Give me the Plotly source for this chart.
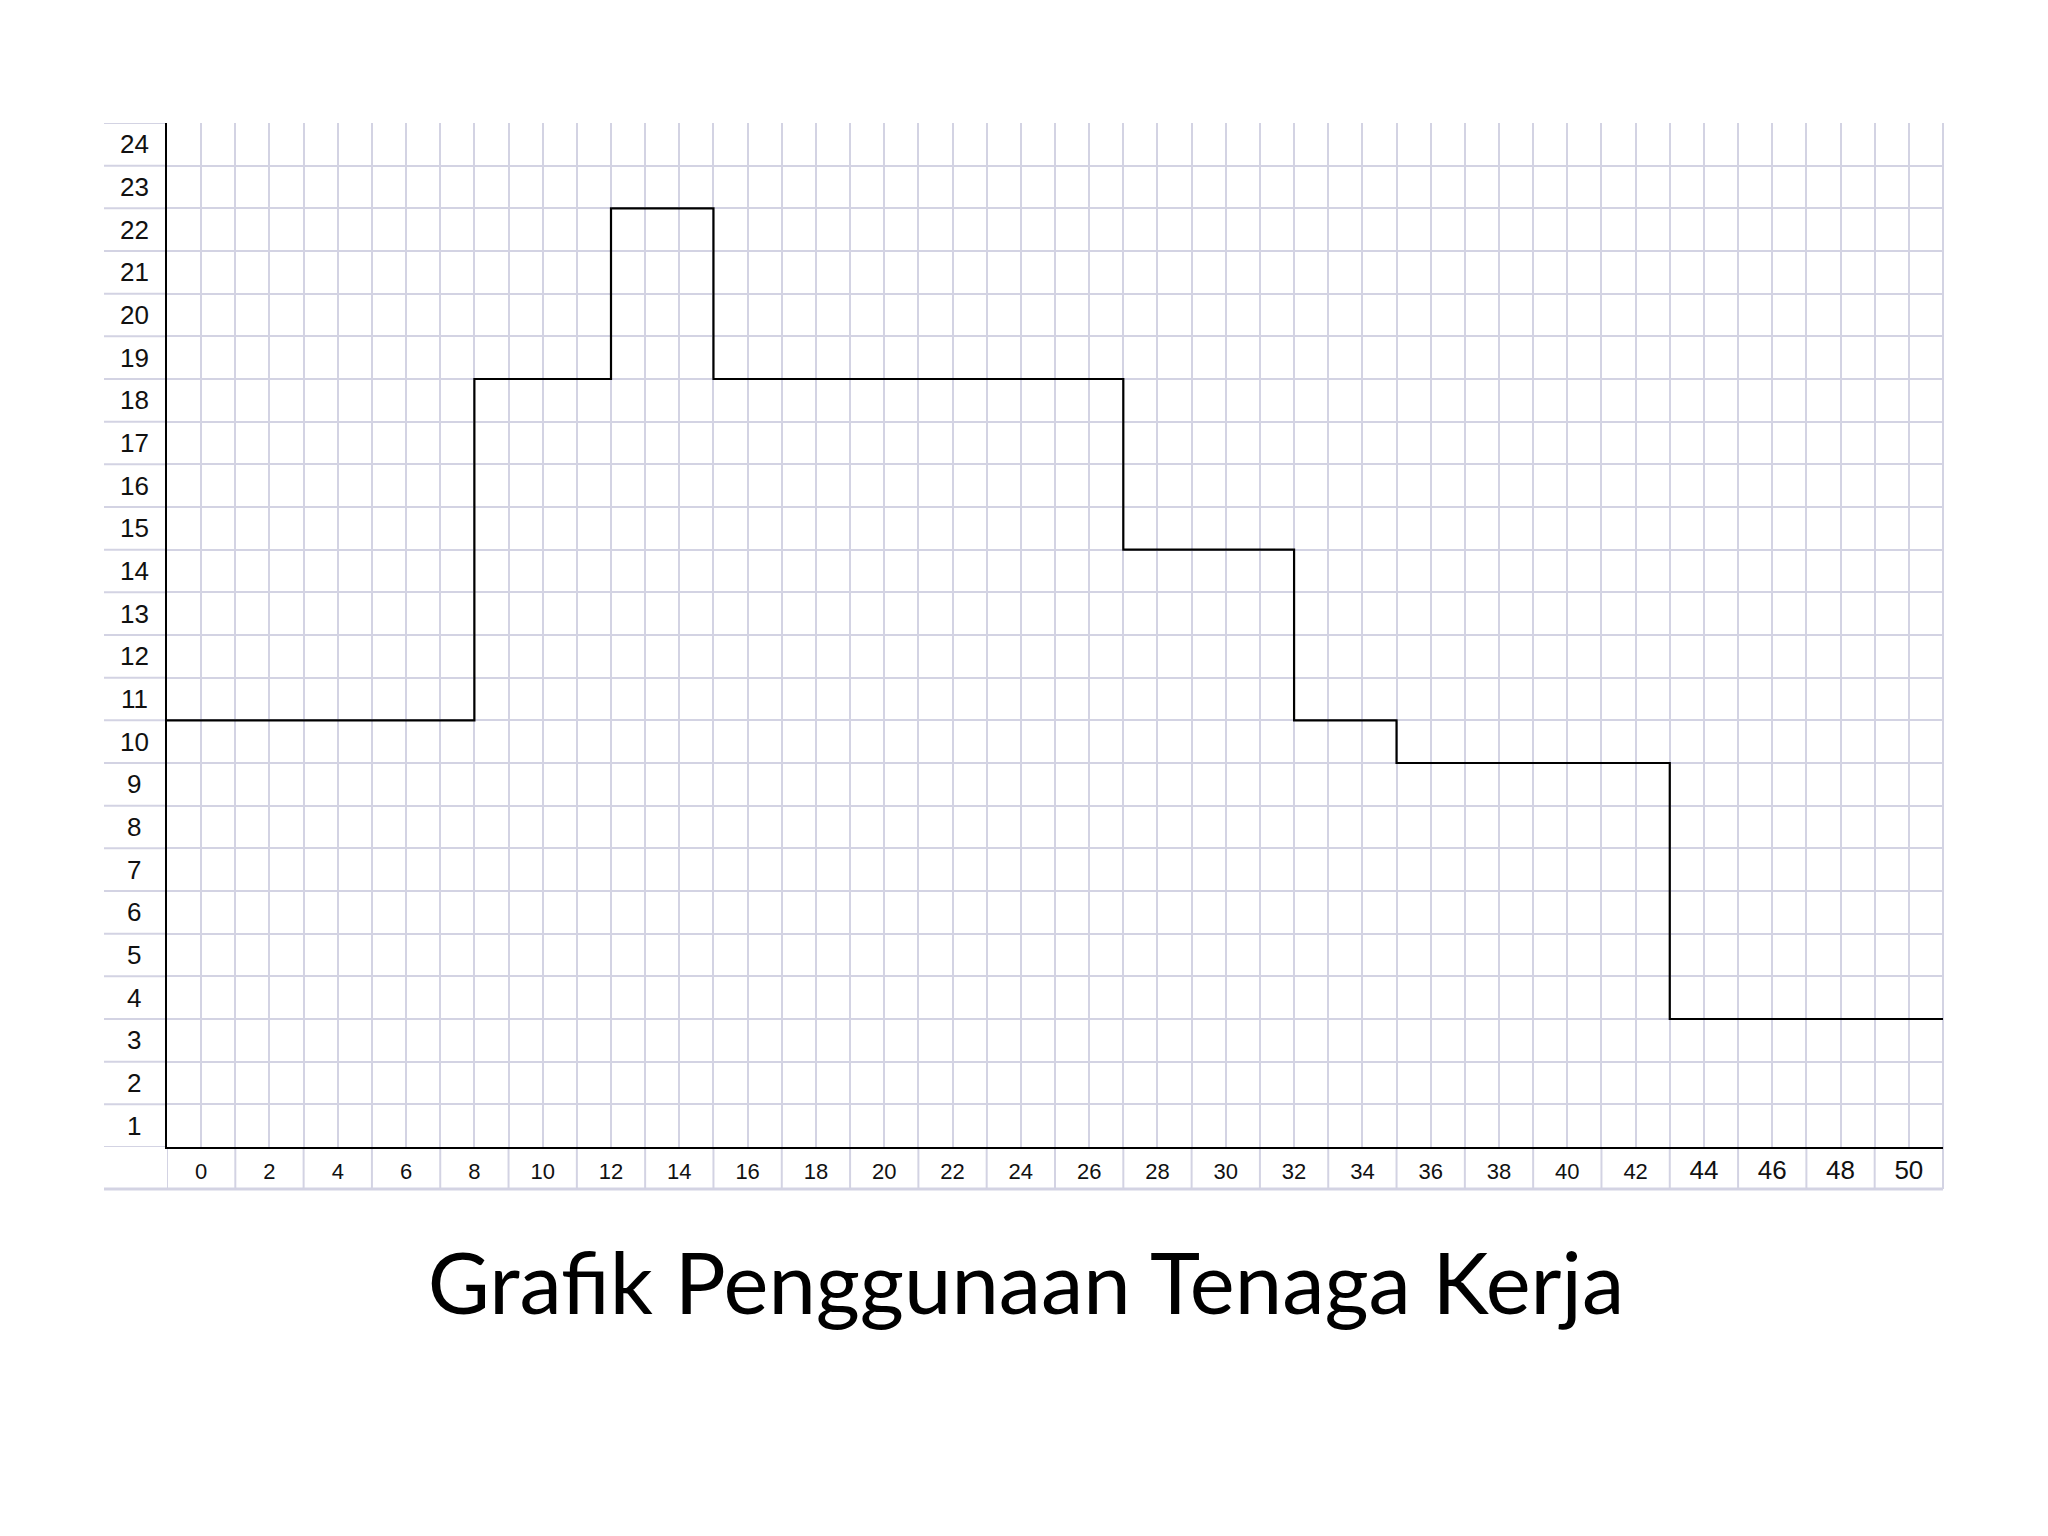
import plotly.graph_objects as go

# Step line: change points (x) and levels (y)
step_x = [-1, 8, 12, 15, 27, 32, 35, 43, 51]
step_y = [10, 18, 22, 18, 14, 10, 9, 3, 3]

x_tick_vals = list(range(0, 51, 2))
x_tick_labels = [str(v) for v in x_tick_vals]
y_tick_labels = [str(v) for v in range(1, 25)]

title_text = "Grafik Penggunaan Tenaga Kerja"

GRID = "#d3d3e3"
OFF = 8  # page body margin
W, H = 2048, 1536
L, T = 167 - OFF, 123 - OFF
R = W - (1943 - OFF)
B = H - (1147 - OFF)
PW, PH = W - L - R, H - T - B
LABEL_COL = 63 / PW
LABEL_ROW = 42 / PH

fig = go.Figure()
fig.add_trace(go.Scatter(
    x=step_x, y=step_y, mode="lines", line_shape="hv",
    line=dict(color="black", width=2.2), hoverinfo="skip", showlegend=False,
))

xt = []
for v, t in zip(x_tick_vals, x_tick_labels):
    if v >= 44:
        xt.append('<span style="font-size:26px">%s</span>' % t)
    else:
        xt.append(t)

fig.update_xaxes(
    range=[-1, 51], tickmode="array", tickvals=x_tick_vals, ticktext=xt,
    showgrid=True, gridcolor=GRID, gridwidth=2,
    minor=dict(tick0=-1, dtick=1, showgrid=True, gridcolor=GRID, gridwidth=2),
    zeroline=False, showline=True, linecolor="black", linewidth=2,
    ticks="", ticklabelstandoff=4,
    tickfont=dict(family="Liberation Sans", size=22, color="#111"),
)
fig.update_yaxes(
    range=[0, 24], tickmode="array", tickvals=[k - 0.5 for k in range(1, 25)],
    ticktext=y_tick_labels, showticklabels=False, showgrid=False,
    minor=dict(tick0=0, dtick=1, showgrid=True, gridcolor=GRID, gridwidth=2),
    zeroline=False, showline=True, linecolor="black", linewidth=2, ticks="",
)

shapes = []
# horizontal gridlines extending into the label column
for k in range(0, 25):
    shapes.append(dict(type="line", xref="paper", yref="y", x0=-LABEL_COL, x1=0,
                       y0=k, y1=k, line=dict(color=GRID, width=2), layer="below"))
# right edge gridline
shapes.append(dict(type="line", xref="paper", yref="paper", x0=1, x1=1,
                   y0=-LABEL_ROW, y1=1, line=dict(color=GRID, width=2), layer="below"))
# bottom of label row
shapes.append(dict(type="line", xref="paper", yref="paper", x0=-LABEL_COL, x1=1,
                   y0=-LABEL_ROW, y1=-LABEL_ROW, line=dict(color=GRID, width=3), layer="below"))
# vertical cell borders in the label row
for v in range(-1, 52, 2):
    shapes.append(dict(type="line", xref="x", yref="paper", x0=v, x1=v,
                       y0=-LABEL_ROW, y1=0, line=dict(color=GRID, width=2), layer="below"))
fig.update_layout(shapes=shapes)

annotations = []
for k, t in enumerate(y_tick_labels, start=1):
    annotations.append(dict(xref="paper", yref="y", x=-33 / PW, y=k - 0.5, text=t,
                            showarrow=False, xanchor="center", yanchor="middle",
                            font=dict(family="Liberation Sans", size=26, color="#111")))
fig.update_layout(annotations=annotations)

fig.update_layout(
    width=W, height=H, autosize=False,
    margin=dict(l=L, r=R, t=T, b=B),
    paper_bgcolor="white", plot_bgcolor="white",
    title=dict(text=title_text, xref="container", yref="container",
               x=(1026 - OFF) / W, y=1 - (1284 - OFF) / H, xanchor="center", yanchor="middle",
               font=dict(family="Lato", size=85, color="black")),
    showlegend=False,
)

fig.write_html("out.html")
